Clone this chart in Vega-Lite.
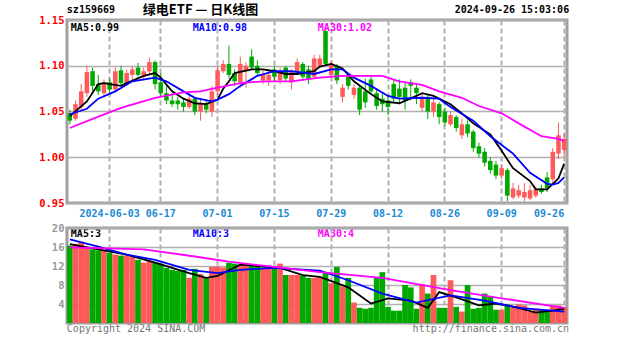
{
"$schema":"https://vega.github.io/schema/vega-lite/v6.json",
"background":"white",
"padding":{"left":37,"top":2,"right":2,"bottom":2},
"bounds":"flush",
"spacing":25,
"config":{"view":{"stroke":"#a0a0a0","strokeWidth":3},"text":{"font":"DejaVu Sans Mono","fontWeight":"bold","fontSize":10}},
"datasets":{
"one":[{}],
"k":[
{"d":"05-23","o":1.048,"h":1.052,"l":1.036,"c":1.040,"v":16.3},
{"d":"05-24","o":1.042,"h":1.062,"l":1.040,"c":1.058,"v":16.6},
{"d":"05-27","o":1.055,"h":1.080,"l":1.052,"c":1.072,"v":17.1},
{"d":"05-28","o":1.070,"h":1.100,"l":1.066,"c":1.093,"v":15.9},
{"d":"05-29","o":1.094,"h":1.098,"l":1.072,"c":1.078,"v":15.5},
{"d":"05-30","o":1.080,"h":1.090,"l":1.068,"c":1.072,"v":15.3},
{"d":"05-31","o":1.070,"h":1.085,"l":1.066,"c":1.082,"v":15.4},
{"d":"06-03","o":1.082,"h":1.086,"l":1.070,"c":1.074,"v":14.8},
{"d":"06-04","o":1.074,"h":1.098,"l":1.072,"c":1.094,"v":14.4},
{"d":"06-05","o":1.095,"h":1.100,"l":1.078,"c":1.081,"v":14.2},
{"d":"06-06","o":1.080,"h":1.096,"l":1.078,"c":1.092,"v":14.2},
{"d":"06-07","o":1.090,"h":1.100,"l":1.084,"c":1.096,"v":14.0},
{"d":"06-11","o":1.098,"h":1.103,"l":1.088,"c":1.090,"v":13.3},
{"d":"06-12","o":1.088,"h":1.098,"l":1.084,"c":1.094,"v":12.7},
{"d":"06-13","o":1.094,"h":1.109,"l":1.090,"c":1.104,"v":13.0},
{"d":"06-14","o":1.104,"h":1.106,"l":1.074,"c":1.080,"v":12.7},
{"d":"06-17","o":1.082,"h":1.092,"l":1.066,"c":1.070,"v":12.5},
{"d":"06-18","o":1.070,"h":1.078,"l":1.058,"c":1.062,"v":11.6},
{"d":"06-19","o":1.062,"h":1.070,"l":1.055,"c":1.058,"v":11.2},
{"d":"06-20","o":1.062,"h":1.066,"l":1.052,"c":1.058,"v":11.0},
{"d":"06-21","o":1.060,"h":1.065,"l":1.050,"c":1.055,"v":11.2},
{"d":"06-24","o":1.055,"h":1.068,"l":1.053,"c":1.064,"v":9.5},
{"d":"06-25","o":1.064,"h":1.066,"l":1.046,"c":1.050,"v":11.4},
{"d":"06-26","o":1.050,"h":1.065,"l":1.040,"c":1.058,"v":10.3},
{"d":"06-27","o":1.058,"h":1.062,"l":1.048,"c":1.052,"v":9.5},
{"d":"06-28","o":1.050,"h":1.078,"l":1.044,"c":1.072,"v":11.8},
{"d":"07-01","o":1.072,"h":1.100,"l":1.068,"c":1.095,"v":11.9},
{"d":"07-02","o":1.094,"h":1.106,"l":1.092,"c":1.102,"v":11.7},
{"d":"07-03","o":1.102,"h":1.122,"l":1.086,"c":1.090,"v":12.7},
{"d":"07-04","o":1.092,"h":1.096,"l":1.078,"c":1.083,"v":12.5},
{"d":"07-05","o":1.082,"h":1.110,"l":1.076,"c":1.102,"v":12.3},
{"d":"07-08","o":1.094,"h":1.104,"l":1.076,"c":1.100,"v":12.1},
{"d":"07-09","o":1.110,"h":1.118,"l":1.096,"c":1.098,"v":12.0},
{"d":"07-10","o":1.100,"h":1.106,"l":1.088,"c":1.092,"v":11.8},
{"d":"07-11","o":1.084,"h":1.096,"l":1.080,"c":1.090,"v":11.6},
{"d":"07-12","o":1.084,"h":1.094,"l":1.078,"c":1.090,"v":11.4},
{"d":"07-15","o":1.096,"h":1.100,"l":1.082,"c":1.088,"v":12.0},
{"d":"07-16","o":1.084,"h":1.098,"l":1.080,"c":1.094,"v":12.5},
{"d":"07-17","o":1.098,"h":1.100,"l":1.082,"c":1.086,"v":10.1},
{"d":"07-18","o":1.082,"h":1.096,"l":1.074,"c":1.093,"v":10.1},
{"d":"07-19","o":1.094,"h":1.108,"l":1.090,"c":1.104,"v":10.1},
{"d":"07-22","o":1.102,"h":1.104,"l":1.084,"c":1.088,"v":10.0},
{"d":"07-23","o":1.096,"h":1.100,"l":1.080,"c":1.086,"v":9.5},
{"d":"07-24","o":1.088,"h":1.112,"l":1.086,"c":1.108,"v":9.5},
{"d":"07-25","o":1.100,"h":1.112,"l":1.098,"c":1.108,"v":9.7},
{"d":"07-26","o":1.138,"h":1.140,"l":1.100,"c":1.102,"v":10.5},
{"d":"07-29","o":1.090,"h":1.106,"l":1.088,"c":1.102,"v":8.4},
{"d":"07-30","o":1.100,"h":1.102,"l":1.080,"c":1.084,"v":11.8},
{"d":"07-31","o":1.066,"h":1.080,"l":1.060,"c":1.076,"v":7.7},
{"d":"08-01","o":1.088,"h":1.090,"l":1.074,"c":1.078,"v":9.5},
{"d":"08-02","o":1.068,"h":1.080,"l":1.064,"c":1.076,"v":4.3},
{"d":"08-05","o":1.076,"h":1.078,"l":1.046,"c":1.052,"v":3.2},
{"d":"08-06","o":1.072,"h":1.086,"l":1.054,"c":1.060,"v":3.0},
{"d":"08-07","o":1.085,"h":1.090,"l":1.068,"c":1.072,"v":3.2},
{"d":"08-08","o":1.070,"h":1.074,"l":1.052,"c":1.056,"v":9.5},
{"d":"08-09","o":1.064,"h":1.070,"l":1.050,"c":1.058,"v":10.7},
{"d":"08-12","o":1.062,"h":1.068,"l":1.046,"c":1.055,"v":3.4},
{"d":"08-13","o":1.080,"h":1.085,"l":1.060,"c":1.064,"v":2.6},
{"d":"08-14","o":1.075,"h":1.085,"l":1.058,"c":1.066,"v":2.6},
{"d":"08-15","o":1.076,"h":1.082,"l":1.052,"c":1.062,"v":8.0},
{"d":"08-16","o":1.082,"h":1.085,"l":1.062,"c":1.078,"v":7.5},
{"d":"08-19","o":1.076,"h":1.080,"l":1.058,"c":1.070,"v":3.0},
{"d":"08-20","o":1.054,"h":1.070,"l":1.050,"c":1.066,"v":8.2},
{"d":"08-21","o":1.066,"h":1.068,"l":1.042,"c":1.050,"v":6.2},
{"d":"08-22","o":1.050,"h":1.064,"l":1.044,"c":1.060,"v":10.1},
{"d":"08-23","o":1.058,"h":1.060,"l":1.036,"c":1.044,"v":3.2},
{"d":"08-26","o":1.050,"h":1.054,"l":1.034,"c":1.038,"v":3.2},
{"d":"08-27","o":1.036,"h":1.050,"l":1.034,"c":1.046,"v":9.0},
{"d":"08-28","o":1.044,"h":1.046,"l":1.028,"c":1.032,"v":3.4},
{"d":"08-29","o":1.024,"h":1.042,"l":1.020,"c":1.036,"v":2.4},
{"d":"08-30","o":1.036,"h":1.040,"l":1.022,"c":1.026,"v":8.0},
{"d":"09-02","o":1.028,"h":1.030,"l":1.006,"c":1.010,"v":3.0},
{"d":"09-03","o":1.012,"h":1.016,"l":1.000,"c":1.004,"v":3.2},
{"d":"09-04","o":1.006,"h":1.010,"l":0.990,"c":0.994,"v":6.2},
{"d":"09-05","o":0.996,"h":1.000,"l":0.982,"c":0.986,"v":5.5},
{"d":"09-06","o":0.992,"h":0.996,"l":0.976,"c":0.980,"v":2.8},
{"d":"09-09","o":0.980,"h":0.992,"l":0.976,"c":0.988,"v":2.8},
{"d":"09-10","o":0.986,"h":0.988,"l":0.952,"c":0.958,"v":3.9},
{"d":"09-11","o":0.956,"h":0.972,"l":0.954,"c":0.966,"v":3.2},
{"d":"09-12","o":0.958,"h":0.970,"l":0.955,"c":0.964,"v":3.9},
{"d":"09-13","o":0.956,"h":0.972,"l":0.952,"c":0.962,"v":3.7},
{"d":"09-18","o":0.955,"h":0.970,"l":0.953,"c":0.964,"v":2.4},
{"d":"09-19","o":0.958,"h":0.968,"l":0.956,"c":0.965,"v":2.8},
{"d":"09-20","o":0.966,"h":0.970,"l":0.960,"c":0.962,"v":2.7},
{"d":"09-23","o":0.978,"h":0.984,"l":0.962,"c":0.966,"v":2.8},
{"d":"09-24","o":0.976,"h":1.010,"l":0.972,"c":1.006,"v":3.7},
{"d":"09-25","o":1.004,"h":1.038,"l":0.998,"c":1.024,"v":3.7},
{"d":"09-26","o":1.008,"h":1.026,"l":1.000,"c":1.020,"v":3.4}
],
"pma":[
{"d":"05-23","s":"MA5","v":1.045},{"d":"05-28","s":"MA5","v":1.061},{"d":"05-30","s":"MA5","v":1.080},{"d":"05-31","s":"MA5","v":1.081},{"d":"06-05","s":"MA5","v":1.078},{"d":"06-06","s":"MA5","v":1.081},{"d":"06-12","s":"MA5","v":1.089},{"d":"06-14","s":"MA5","v":1.092},{"d":"06-17","s":"MA5","v":1.087},{"d":"06-19","s":"MA5","v":1.072},{"d":"06-21","s":"MA5","v":1.064},{"d":"06-25","s":"MA5","v":1.059},{"d":"06-27","s":"MA5","v":1.058},{"d":"07-01","s":"MA5","v":1.063},{"d":"07-02","s":"MA5","v":1.075},{"d":"07-03","s":"MA5","v":1.083},{"d":"07-04","s":"MA5","v":1.092},{"d":"07-09","s":"MA5","v":1.096},{"d":"07-11","s":"MA5","v":1.096},{"d":"07-15","s":"MA5","v":1.094},{"d":"07-17","s":"MA5","v":1.091},{"d":"07-19","s":"MA5","v":1.091},{"d":"07-24","s":"MA5","v":1.094},{"d":"07-25","s":"MA5","v":1.099},{"d":"07-29","s":"MA5","v":1.102},{"d":"07-31","s":"MA5","v":1.097},{"d":"08-02","s":"MA5","v":1.083},{"d":"08-07","s":"MA5","v":1.069},{"d":"08-09","s":"MA5","v":1.061},{"d":"08-14","s":"MA5","v":1.059},{"d":"08-19","s":"MA5","v":1.067},{"d":"08-20","s":"MA5","v":1.070},{"d":"08-22","s":"MA5","v":1.067},{"d":"08-27","s":"MA5","v":1.058},{"d":"08-29","s":"MA5","v":1.048},{"d":"09-02","s":"MA5","v":1.037},{"d":"09-05","s":"MA5","v":1.025},{"d":"09-09","s":"MA5","v":1.007},{"d":"09-11","s":"MA5","v":0.988},{"d":"09-18","s":"MA5","v":0.974},{"d":"09-19","s":"MA5","v":0.965},{"d":"09-23","s":"MA5","v":0.965},{"d":"09-25","s":"MA5","v":0.977},{"d":"09-26","s":"MA5","v":0.993},
{"d":"05-23","s":"MA10","v":1.047},{"d":"05-28","s":"MA10","v":1.053},{"d":"05-30","s":"MA10","v":1.064},{"d":"06-04","s":"MA10","v":1.072},{"d":"06-07","s":"MA10","v":1.083},{"d":"06-14","s":"MA10","v":1.087},{"d":"06-18","s":"MA10","v":1.083},{"d":"06-21","s":"MA10","v":1.072},{"d":"06-25","s":"MA10","v":1.065},{"d":"06-28","s":"MA10","v":1.061},{"d":"07-01","s":"MA10","v":1.063},{"d":"07-03","s":"MA10","v":1.069},{"d":"07-05","s":"MA10","v":1.078},{"d":"07-10","s":"MA10","v":1.089},{"d":"07-15","s":"MA10","v":1.094},{"d":"07-18","s":"MA10","v":1.094},{"d":"07-24","s":"MA10","v":1.091},{"d":"07-29","s":"MA10","v":1.096},{"d":"07-31","s":"MA10","v":1.096},{"d":"08-02","s":"MA10","v":1.087},{"d":"08-07","s":"MA10","v":1.078},{"d":"08-12","s":"MA10","v":1.067},{"d":"08-14","s":"MA10","v":1.064},{"d":"08-20","s":"MA10","v":1.065},{"d":"08-23","s":"MA10","v":1.064},{"d":"08-27","s":"MA10","v":1.055},{"d":"09-02","s":"MA10","v":1.040},{"d":"09-05","s":"MA10","v":1.023},{"d":"09-11","s":"MA10","v":1.004},{"d":"09-18","s":"MA10","v":0.983},{"d":"09-23","s":"MA10","v":0.971},{"d":"09-24","s":"MA10","v":0.970},{"d":"09-25","s":"MA10","v":0.972},{"d":"09-26","s":"MA10","v":0.978},
{"d":"05-23","s":"MA30","v":1.032},{"d":"05-29","s":"MA30","v":1.042},{"d":"06-05","s":"MA30","v":1.054},{"d":"06-14","s":"MA30","v":1.065},{"d":"06-21","s":"MA30","v":1.071},{"d":"06-26","s":"MA30","v":1.072},{"d":"07-01","s":"MA30","v":1.076},{"d":"07-05","s":"MA30","v":1.081},{"d":"07-11","s":"MA30","v":1.083},{"d":"07-18","s":"MA30","v":1.083},{"d":"07-25","s":"MA30","v":1.087},{"d":"07-31","s":"MA30","v":1.089},{"d":"08-05","s":"MA30","v":1.089},{"d":"08-09","s":"MA30","v":1.089},{"d":"08-14","s":"MA30","v":1.083},{"d":"08-20","s":"MA30","v":1.079},{"d":"08-23","s":"MA30","v":1.072},{"d":"08-29","s":"MA30","v":1.065},{"d":"09-03","s":"MA30","v":1.056},{"d":"09-09","s":"MA30","v":1.048},{"d":"09-12","s":"MA30","v":1.037},{"d":"09-20","s":"MA30","v":1.023},{"d":"09-25","s":"MA30","v":1.020},{"d":"09-26","s":"MA30","v":1.018}
],
"vma":[
{"d":"05-23","s":"MA5","v":16.6},{"d":"05-30","s":"MA5","v":15.5},{"d":"06-06","s":"MA5","v":14.4},{"d":"06-14","s":"MA5","v":12.7},{"d":"06-24","s":"MA5","v":10.5},{"d":"06-27","s":"MA5","v":9.5},{"d":"07-01","s":"MA5","v":9.9},{"d":"07-05","s":"MA5","v":12.3},{"d":"07-10","s":"MA5","v":12.0},{"d":"07-16","s":"MA5","v":11.6},{"d":"07-22","s":"MA5","v":10.1},{"d":"07-25","s":"MA5","v":9.7},{"d":"08-01","s":"MA5","v":7.5},{"d":"08-07","s":"MA5","v":4.1},{"d":"08-12","s":"MA5","v":5.2},{"d":"08-16","s":"MA5","v":4.7},{"d":"08-21","s":"MA5","v":3.2},{"d":"08-23","s":"MA5","v":6.5},{"d":"08-28","s":"MA5","v":5.4},{"d":"09-03","s":"MA5","v":3.7},{"d":"09-06","s":"MA5","v":4.1},{"d":"09-12","s":"MA5","v":3.2},{"d":"09-19","s":"MA5","v":2.2},{"d":"09-24","s":"MA5","v":2.6},{"d":"09-26","s":"MA5","v":3.0},
{"d":"05-23","s":"MA10","v":17.6},{"d":"05-30","s":"MA10","v":16.1},{"d":"06-06","s":"MA10","v":14.4},{"d":"06-14","s":"MA10","v":13.3},{"d":"06-24","s":"MA10","v":11.2},{"d":"07-01","s":"MA10","v":10.5},{"d":"07-05","s":"MA10","v":11.2},{"d":"07-15","s":"MA10","v":11.6},{"d":"07-25","s":"MA10","v":11.0},{"d":"08-01","s":"MA10","v":9.0},{"d":"08-09","s":"MA10","v":6.2},{"d":"08-19","s":"MA10","v":4.3},{"d":"08-27","s":"MA10","v":5.8},{"d":"09-04","s":"MA10","v":4.7},{"d":"09-12","s":"MA10","v":3.2},{"d":"09-26","s":"MA10","v":2.4},
{"d":"05-23","s":"MA30","v":15.9},{"d":"06-12","s":"MA30","v":15.5},{"d":"06-25","s":"MA30","v":14.0},{"d":"07-03","s":"MA30","v":12.9},{"d":"07-15","s":"MA30","v":11.8},{"d":"07-25","s":"MA30","v":10.7},{"d":"08-09","s":"MA30","v":9.5},{"d":"08-27","s":"MA30","v":6.9},{"d":"09-09","s":"MA30","v":5.2},{"d":"09-26","s":"MA30","v":3.2}
]
},
"vconcat":[
{
"width":500,"height":183,
"layer":[
{"data":{"name":"k"},"mark":{"type":"rule","strokeWidth":1},
 "encoding":{
  "x":{"field":"d","type":"ordinal","scale":{"paddingInner":0,"paddingOuter":0},
   "axis":{"title":null,"values":["06-03","06-17","07-01","07-15","07-29","08-12","08-26","09-09","09-26"],"labelExpr":"datum.value == '06-03' ? '2024-06-03' : datum.value","labelAngle":0,"labelColor":"#1a8ad4","labelFont":"DejaVu Sans Mono","labelFontWeight":"bold","labelFontSize":10,"labelPadding":5,"ticks":false,"domain":false,"grid":true,"gridColor":"#b0b0b0","gridWidth":2,"gridDash":[5,3],"bandPosition":0.5,"labelAlign":{"condition":{"test":"datum.value == '09-26'","value":"right"},"value":"center"}}},
  "y":{"field":"l","type":"quantitative","scale":{"domain":[0.95,1.15],"zero":false,"nice":false},
   "axis":{"title":null,"values":[0.95,1.0,1.05,1.1,1.15],"tickCount":10,"format":".2f","labelOverlap":false,"labelColor":"#ff0000","labelFont":"DejaVu Sans Mono","labelFontWeight":"bold","labelFontSize":10.5,"labelPadding":3,"ticks":false,"domain":false,"grid":true,"gridColor":"#b0b0b0","gridWidth":1.5}},
  "y2":{"field":"h"},
  "color":{"condition":{"test":"datum.c >= datum.o","value":"#ff5a5a"},"value":"#00a800"}}},
{"data":{"name":"k"},"mark":{"type":"bar","width":{"band":0.8}},
 "encoding":{"x":{"field":"d","type":"ordinal"},"y":{"field":"o","type":"quantitative"},"y2":{"field":"c"},
  "color":{"condition":{"test":"datum.c >= datum.o","value":"#ff5a5a"},"value":"#00a800"}}},
{"data":{"name":"pma"},"mark":{"type":"line","strokeWidth":1.8},
 "encoding":{"x":{"field":"d","type":"ordinal"},"y":{"field":"v","type":"quantitative"},
  "color":{"field":"s","type":"nominal","scale":{"domain":["MA5","MA10","MA30"],"range":["#000000","#0000ff","#ff00ff"]},"legend":null}}},
{"data":{"name":"one"},"mark":{"type":"text","align":"left","dx":-3,"color":"#000000"},"encoding":{"x":{"datum":"05-23","type":"ordinal"},"y":{"datum":1.161,"type":"quantitative"},"text":{"value":"sz159669"}}},
{"data":{"name":"one"},"mark":{"type":"text","align":"center","font":"Noto Sans CJK SC","fontSize":13,"color":"#000000"},"encoding":{"x":{"datum":"06-26","type":"ordinal"},"y":{"datum":1.161,"type":"quantitative"},"text":{"value":"绿电ETF — 日K线图"}}},
{"data":{"name":"one"},"mark":{"type":"text","align":"right","dx":5,"color":"#000000"},"encoding":{"x":{"datum":"09-26","type":"ordinal"},"y":{"datum":1.161,"type":"quantitative"},"text":{"value":"2024-09-26 15:03:06"}}},
{"data":{"name":"one"},"mark":{"type":"text","align":"left","dx":1,"color":"#000000"},"encoding":{"x":{"datum":"05-23","type":"ordinal"},"y":{"datum":1.141,"type":"quantitative"},"text":{"value":"MA5:0.99"}}},
{"data":{"name":"one"},"mark":{"type":"text","align":"left","dx":-2,"color":"#0000ff"},"encoding":{"x":{"datum":"06-25","type":"ordinal"},"y":{"datum":1.141,"type":"quantitative"},"text":{"value":"MA10:0.98"}}},
{"data":{"name":"one"},"mark":{"type":"text","align":"left","dx":-2,"color":"#ff00ff"},"encoding":{"x":{"datum":"07-25","type":"ordinal"},"y":{"datum":1.141,"type":"quantitative"},"text":{"value":"MA30:1.02"}}},
{"data":{"name":"one"},"mark":{"type":"text","align":"left","dx":1,"color":"#000000"},"encoding":{"x":{"datum":"05-23","type":"ordinal"},"y":{"datum":0.916,"type":"quantitative"},"text":{"value":"MA5:3"}}},
{"data":{"name":"one"},"mark":{"type":"text","align":"left","dx":-2,"color":"#0000ff"},"encoding":{"x":{"datum":"06-25","type":"ordinal"},"y":{"datum":0.916,"type":"quantitative"},"text":{"value":"MA10:3"}}},
{"data":{"name":"one"},"mark":{"type":"text","align":"left","dx":-2,"color":"#ff00ff"},"encoding":{"x":{"datum":"07-25","type":"ordinal"},"y":{"datum":0.916,"type":"quantitative"},"text":{"value":"MA30:4"}}},
{"data":{"name":"one"},"mark":{"type":"text","align":"left","dx":-3,"color":"#777777","fontWeight":"normal"},"encoding":{"x":{"datum":"05-23","type":"ordinal"},"y":{"datum":0.8125,"type":"quantitative"},"text":{"value":"Copyright 2024 SINA.COM"}}},
{"data":{"name":"one"},"mark":{"type":"text","align":"right","dx":5,"color":"#777777","fontWeight":"normal"},"encoding":{"x":{"datum":"09-26","type":"ordinal"},"y":{"datum":0.8125,"type":"quantitative"},"text":{"value":"http://finance.sina.com.cn"}}}
]
},
{
"width":500,"height":95,
"layer":[
{"data":{"name":"k"},"mark":{"type":"bar","width":{"band":1}},
 "encoding":{
  "x":{"field":"d","type":"ordinal","scale":{"paddingInner":0,"paddingOuter":0},
   "axis":{"title":null,"values":["06-03","06-17","07-01","07-15","07-29","08-12","08-26","09-09","09-26"],"labels":false,"ticks":false,"domain":false,"grid":true,"gridColor":"#b0b0b0","gridWidth":2,"gridDash":[5,3],"bandPosition":0.5}},
  "y":{"field":"v","type":"quantitative","scale":{"domain":[0,20],"nice":false},
   "axis":{"title":null,"values":[4,8,12,16,20],"tickCount":10,"labelOverlap":false,"labelColor":"#999999","labelFont":"DejaVu Sans Mono","labelFontWeight":"bold","labelFontSize":10.5,"labelPadding":3,"ticks":false,"domain":false,"grid":true,"gridColor":"#b0b0b0","gridWidth":1.5}},
  "color":{"condition":{"test":"datum.c >= datum.o","value":"#ff5a5a"},"value":"#00a800"}}},
{"data":{"name":"vma"},"mark":{"type":"line","strokeWidth":1.8},
 "encoding":{"x":{"field":"d","type":"ordinal"},"y":{"field":"v","type":"quantitative"},
  "color":{"field":"s","type":"nominal","legend":null}}}
]
}
]
}
